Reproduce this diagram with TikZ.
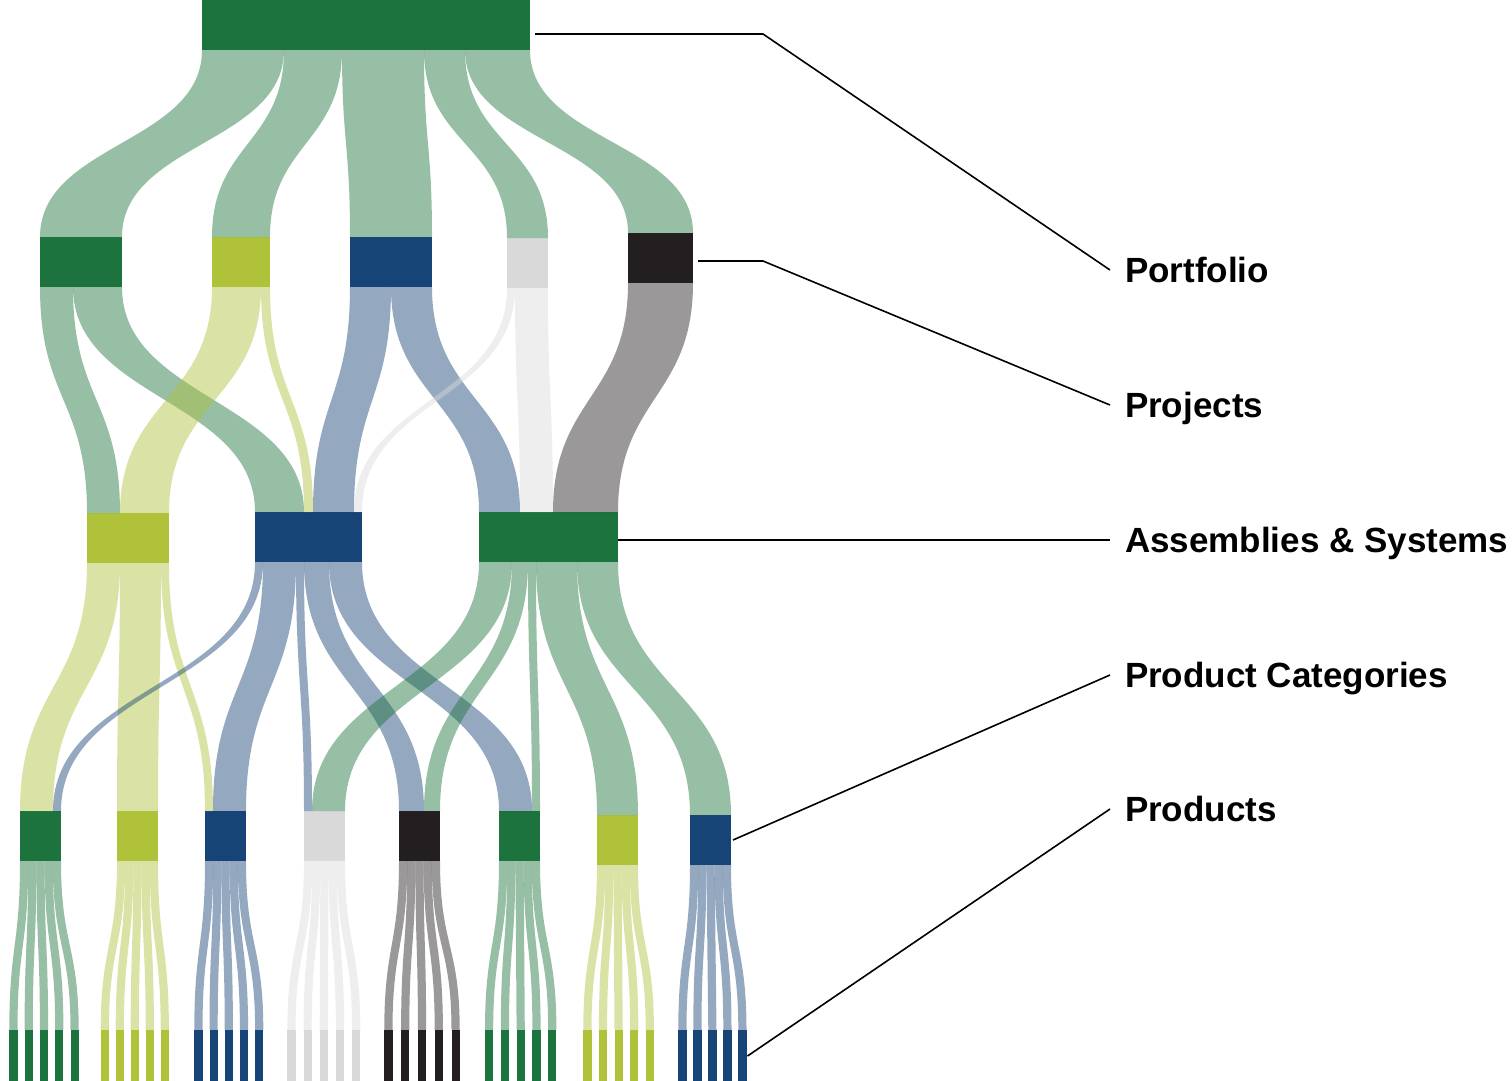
\documentclass[tikz,border=0pt]{standalone}
\usepackage{fontspec}
\setmainfont{Liberation Sans}
\usetikzlibrary{calc}
\definecolor{cgreen}{RGB}{29,115,61}
\definecolor{clime}{RGB}{175,194,58}
\definecolor{cblue}{RGB}{22,68,118}
\definecolor{cgray}{RGB}{218,217,218}
\definecolor{cblack}{RGB}{35,31,32}
\tikzset{
  box/.style={rectangle, inner sep=0pt, outer sep=0pt, draw=none, anchor=north west},
  flowfill/.style={fill opacity=0.46},
  lab/.style={anchor=west, inner sep=0pt, outer sep=0pt, outer xsep=15pt, text height=25pt, text depth=0pt, font=\fontsize{35}{42}\selectfont\bfseries},
  leader/.style={draw=black, line width=1.6pt}
}
% #1 colour, #2 source node, #3 offset at source, #4 target node, #5 offset at target, #6 width
\newcommand{\sankeyflow}[6]{%
  \coordinate (fs) at ([xshift=#3]#2.south west);
  \coordinate (ft) at ([xshift=#5]#4.north west);
  \coordinate (fs2) at ([xshift={#3+#6}]#2.south west);
  \coordinate (ft2) at ([xshift={#5+#6}]#4.north west);
  \coordinate (fm) at ($(fs)!0.5!(ft)$);
  \fill[fill=#1, flowfill] (fs) .. controls (fs |- fm) and (ft |- fm) .. (ft) -- (ft2) .. controls (ft2 |- fm) and (fs2 |- fm) .. (fs2) -- cycle;
}
\begin{document}
\begin{tikzpicture}[x=1pt, y=-1pt]
\useasboundingbox (0,0) rectangle (1512,1080);
% Portfolio
\node[box, fill=cgreen, minimum width=328pt, minimum height=50pt] (PF) at (202,0) {};
% Projects
\node[box, fill=cgreen, minimum width=82pt, minimum height=50pt] (P1) at (40,237) {};
\node[box, fill=clime,  minimum width=58pt, minimum height=50pt] (P2) at (212,237) {};
\node[box, fill=cblue,  minimum width=82pt, minimum height=50pt] (P3) at (350,237) {};
\node[box, fill=cgray,  minimum width=41pt, minimum height=50pt] (P4) at (507,238) {};
\node[box, fill=cblack, minimum width=65pt, minimum height=50pt] (P5) at (628,233) {};
% Assemblies & Systems
\node[box, fill=clime,  minimum width=82pt,  minimum height=50pt] (A1) at (87,513) {};
\node[box, fill=cblue,  minimum width=107pt, minimum height=50pt] (A2) at (255,512) {};
\node[box, fill=cgreen, minimum width=139pt, minimum height=50pt] (A3) at (479,512) {};
% Product categories and products
\foreach \c/\col/\cx/\cy/\gx/\gp in {1/cgreen/20/811/9.3/15.3, 2/clime/117/811/100.7/15, 3/cblue/205/811/194.3/15.2,
                                     4/cgray/304/811/287.3/16.2, 5/cblack/399/811/384.3/16.8, 6/cgreen/499/811/485/15.8,
                                     7/clime/597/815/583.3/15.6, 8/cblue/690/815/678.3/15}{
  \node[box, fill=\col, minimum width=41pt, minimum height=50pt] (C\c) at (\cx,\cy) {};
  \foreach \k in {0,...,4}{
    \node[box, fill=\col, minimum width=8.2pt, minimum height=52pt] (D\c\k) at ({\gx+\gp*\k},1030) {};
  }
}
% Portfolio -> Projects
\sankeyflow{cgreen}{PF}{0}{P1}{0}{82}
\sankeyflow{cgreen}{PF}{82}{P2}{0}{58}
\sankeyflow{cgreen}{PF}{140}{P3}{0}{82}
\sankeyflow{cgreen}{PF}{222}{P4}{0}{41}
\sankeyflow{cgreen}{PF}{263}{P5}{0}{65}
% Projects -> Assemblies
\sankeyflow{cgreen}{P1}{0}{A1}{0}{33}
\sankeyflow{cgreen}{P1}{33}{A2}{0}{49}
\sankeyflow{clime}{P2}{0}{A1}{33}{49}
\sankeyflow{clime}{P2}{49}{A2}{49}{9}
\sankeyflow{cblue}{P3}{0}{A2}{58}{41}
\sankeyflow{cblue}{P3}{41}{A3}{0}{41}
\sankeyflow{cgray}{P4}{0}{A2}{99}{8}
\sankeyflow{cgray}{P4}{8}{A3}{41}{33}
\sankeyflow{cblack}{P5}{0}{A3}{74}{65}
% Assemblies -> Categories
\sankeyflow{clime}{A1}{0}{C1}{0}{33}
\sankeyflow{clime}{A1}{33}{C2}{0}{41}
\sankeyflow{clime}{A1}{74}{C3}{0}{8}
\sankeyflow{cblue}{A2}{0}{C1}{33}{8}
\sankeyflow{cblue}{A2}{8}{C3}{8}{33}
\sankeyflow{cblue}{A2}{41}{C4}{0}{8}
\sankeyflow{cblue}{A2}{49}{C5}{0}{25}
\sankeyflow{cblue}{A2}{74}{C6}{0}{33}
\sankeyflow{cgreen}{A3}{0}{C4}{8}{33}
\sankeyflow{cgreen}{A3}{33}{C5}{25}{16}
\sankeyflow{cgreen}{A3}{49}{C6}{33}{8}
\sankeyflow{cgreen}{A3}{57}{C7}{0}{41}
\sankeyflow{cgreen}{A3}{98}{C8}{0}{41}
% Categories -> Products
\foreach \c/\col in {1/cgreen, 2/clime, 3/cblue, 4/cgray, 5/cblack, 6/cgreen, 7/clime, 8/cblue}{
  \foreach \k in {0,...,4}{
    \sankeyflow{\col}{C\c}{8.2*\k}{D\c\k}{0}{8.2}
  }
}
% Labels
\node[lab] (lPort) at (1110,270) {Portfolio};
\node[lab] (lProj) at (1110,405) {Projects};
\node[lab] (lAsm)  at (1110,540) {Assemblies \& Systems};
\node[lab] (lCat)  at (1110,675) {Product Categories};
\node[lab] (lProd) at (1110,809) {Products};
\coordinate (k1) at (763,34);
\coordinate (k2) at (763,261);
\draw[leader] ([shift={(5pt,-9pt)}]PF.east) -- (k1) -- (lPort.west);
\draw[leader] ([shift={(5pt,-3pt)}]P5.east) -- (k2) -- (lProj.west);
\draw[leader] (lAsm.west -| A3.east) -- (lAsm.west);
\draw[leader] ([xshift=2pt]C8.east) -- (lCat.west);
\draw[leader] ([xshift=1pt]D84.east) -- (lProd.west);
\end{tikzpicture}
\end{document}
